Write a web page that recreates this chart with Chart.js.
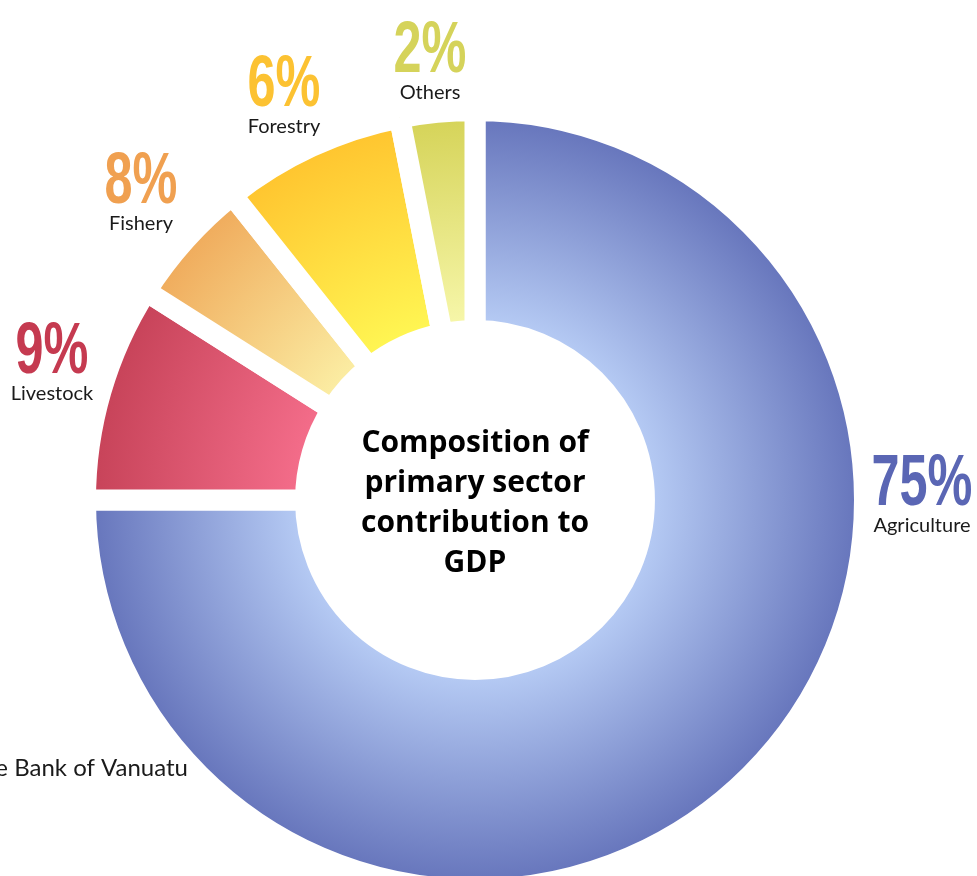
<!DOCTYPE html>
<html>
<head>
<meta charset="utf-8">
<script src="https://cdn.jsdelivr.net/npm/chart.js@4"></script>
<style>
  html, body { margin: 0; padding: 0; background: #fff; overflow: hidden; }
  #wrap { position: relative; width: 977px; height: 900px; }
</style>
</head>
<body>
<div id="wrap"><canvas id="myChart"></canvas></div>
<script>
// data
const sectors = ['Agriculture', 'Livestock', 'Fishery', 'Forestry', 'Others'];
// printed percentages
const shares = [75, 9, 8, 6, 2];
// slice sizes as they are drawn in the picture (the drawn slices do not follow
// the printed numbers exactly: fishery is drawn smaller than forestry)
const sliceSizes = [75, 9, 5.3, 7.6, 3.1];
const title = ['Composition of', 'primary sector', 'contribution to', 'GDP'];
const source = 'Source: Reserve Bank of Vanuatu';

// colours: [inner, outer] of each ring piece, and the colour of its big number
const gradStops = [
    ['#b4c9f3', '#6877bd'],
    ['#f36c89', '#c8445a'],
    ['#fbeca2', '#f0ad5e'],
    ['#fff552', '#ffc630'],
    ['#f6f6a8', '#d6d45a']
];
const numColors = ['#5a66b4', '#c53a50', '#f0a050', '#fcc232', '#d5d35a'];
// where the labels sit (centre x, baseline y of the big number)
const labelSpots = [[922, 505], [52, 373], [141, 203], [284, 106], [430, 72]];

const GAP = 21;      // white gap between pieces
const CUT = 0.435;

function sliceColor(c) {
    const chart = c.chart;
    const area = chart.chartArea;
    if (!area) return gradStops[c.dataIndex][1];
    const cx = (area.left + area.right) / 2;
    const cy = (area.top + area.bottom) / 2;
    const R = (Math.min(area.width, area.height) - GAP) / 2;
    const g = chart.ctx.createRadialGradient(cx, cy, R * CUT + GAP / 2, cx, cy, R - GAP / 2);
    g.addColorStop(0, gradStops[c.dataIndex][0]);
    g.addColorStop(1, gradStops[c.dataIndex][1]);
    return g;
}

const labelPlugin = {
    id: 'labels',
    afterDraw(chart) {
        const ctx = chart.ctx;
        const area = chart.chartArea;
        const cx = (area.left + area.right) / 2;
        const cy = (area.top + area.bottom) / 2;
        ctx.save();
        ctx.textAlign = 'center';
        ctx.textBaseline = 'alphabetic';

        // centre title
        ctx.fillStyle = '#000';
        ctx.font = 'bold 30px "Open Sans"';
        title.forEach((line, i) => {
            ctx.fillText(line, cx, cy - 48 + i * 40);
        });

        // big numbers and names
        sectors.forEach((name, i) => {
            const [x, y] = labelSpots[i];
            ctx.save();
            ctx.translate(x, y);
            ctx.scale(0.7, 1);
            ctx.fillStyle = numColors[i];
            ctx.font = 'bold 72px "Liberation Sans"';
            ctx.fillText(shares[i] + '%', 0, 0);
            ctx.restore();
            ctx.fillStyle = '#1a1a1a';
            ctx.font = '20px Lato';
            ctx.fillText(name, x, y + 27);
        });

        ctx.textAlign = 'right';
        ctx.font = '24px Lato';
        ctx.fillStyle = '#1a1a1a';
        ctx.fillText(source, 188, 776);
        ctx.restore();
    }
};

const ctx = document.getElementById('myChart').getContext('2d');

const config = {
    type: 'doughnut',
    data: {
        labels: sectors,
        datasets: [{
            data: sliceSizes,
            backgroundColor: sliceColor,
            borderColor: '#fff',
            borderWidth: GAP,
            borderAlign: 'center',
            borderJoinStyle: 'miter',
            hoverBorderWidth: GAP,
            hoverOffset: 0
        }]
    },
    options: {
        responsive: true,
        maintainAspectRatio: false,
        animation: false,
        cutout: (CUT * 100) + '%',
        layout: {
            padding: { left: 75, right: 102, top: 100, bottom: 0 }
        },
        plugins: {
            legend: { display: false },
            tooltip: { enabled: false }
        }
    },
    plugins: [labelPlugin]
};

const myChart = new Chart(ctx, config);
</script>
</body>
</html>
